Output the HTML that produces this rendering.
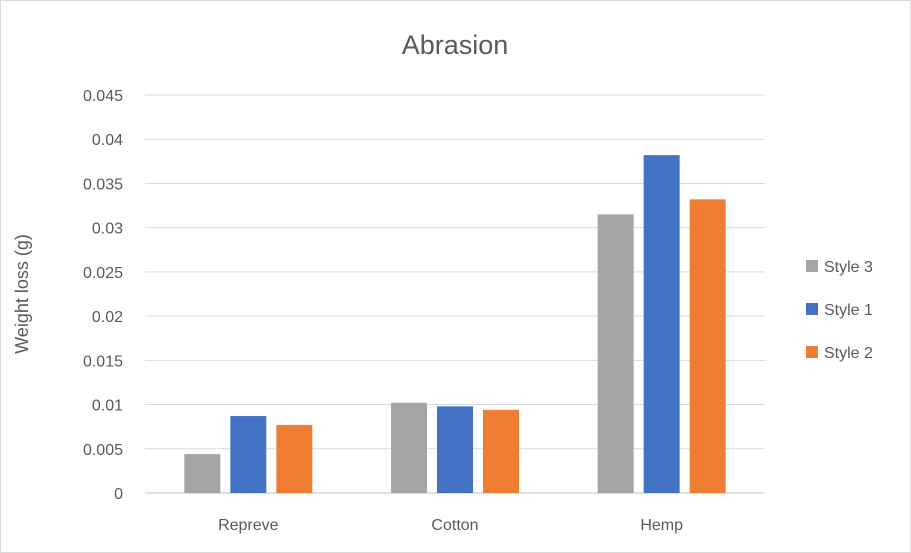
<!DOCTYPE html>
<html><head><meta charset="utf-8"><style>
html,body{margin:0;padding:0;background:#fff;}
svg{display:block;font-family:"Liberation Sans",sans-serif;}
</style></head><body>
<svg id="chart" width="911" height="553" viewBox="0 0 911 553">
<rect x="0.5" y="0.5" width="910" height="552" fill="#fff" stroke="#d9d9d9"/>
<text x="455" y="54" text-anchor="middle" font-size="27" fill="#595959">Abrasion</text>
<text transform="translate(28,294) rotate(-90)" text-anchor="middle" font-size="18" fill="#595959">Weight loss (g)</text>
<g id="grid"></g><g id="bars"></g><g id="xl"></g><g id="legend"></g>
</svg>
<script>
const categories=["Repreve","Cotton","Hemp"];
const seriesNames=["Style 3","Style 1","Style 2"];
const style3=[0.0044,0.0102,0.0315];
const style1=[0.0087,0.0098,0.0382];
const style2=[0.0077,0.0094,0.0332];
const yTicks=[0,0.005,0.01,0.015,0.02,0.025,0.03,0.035,0.04,0.045];
const yTickLabels=["0","0.005","0.01","0.015","0.02","0.025","0.03","0.035","0.04","0.045"];
const colors=["#A5A5A5","#4472C4","#ED7D31"];
const NS="http://www.w3.org/2000/svg";
const x0=145,x1=765,y0=493,y1=95,yMax=0.045;
const y=v=>y0-(v/yMax)*(y0-y1);
const band=(x1-x0)/categories.length;
const cx=i=>x0+band*(i+0.5);
function mk(t,a,p){const e=document.createElementNS(NS,t);for(const k in a)e.setAttribute(k,a[k]);p.appendChild(e);return e;}
const grid=document.getElementById('grid');
yTicks.forEach((v,i)=>{
 const l=mk('line',{x1:x0,x2:x1,y1:y(v),y2:y(v),stroke:i===0?'#bfbfbf':'#d9d9d9','stroke-width':1},grid);
 
 
 const t=mk('text',{x:123,y:y(v)+6,'text-anchor':'end','font-size':16,fill:'#595959'},grid);
 t.textContent=yTickLabels[i];
 
 
});
const series=[style3,style1,style2];
const bw=36,gap=10;
const bars=document.getElementById('bars');
categories.forEach((c,i)=>{
 series.forEach((s,j)=>{
  const bx=cx(i)+(j-1)*(bw+gap)-bw/2;
  const r=mk('rect',{x:bx,y:y(s[i]),width:bw,height:y0-y(s[i]),fill:colors[j]},bars);
  
  
 });
 const t=mk('text',{x:cx(i),y:530,'text-anchor':'middle','font-size':16,fill:'#595959'},document.getElementById('xl'));
 t.textContent=c;
 
 
});
const lg=document.getElementById('legend');
seriesNames.forEach((n,j)=>{
 const ly=266+j*43;
 const g=mk('g',{},lg);
 
 
 mk('rect',{x:806,y:ly-6,width:12,height:12,fill:colors[j]},g);
 const t=mk('text',{x:824,y:ly+6,'font-size':16,fill:'#595959'},g);
 t.textContent=n;
});
</script>
</body></html>
